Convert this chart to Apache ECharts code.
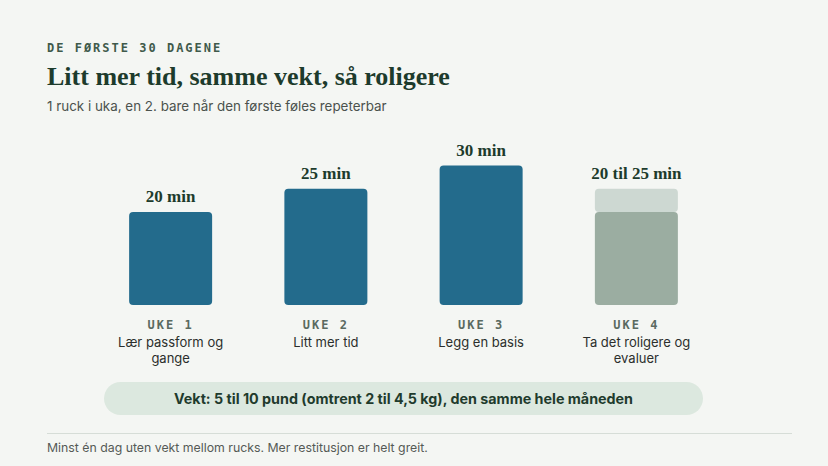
<!DOCTYPE html>
<html>
<head>
<meta charset="utf-8">
<script src="https://cdn.jsdelivr.net/npm/echarts@6/dist/echarts.min.js"></script>
<style>
  html, body { margin: 0; padding: 0; background: #f4f6f3; }
  #chart { width: 828px; height: 466px; }
  /* letter-spaced mono labels (svg renderer) */
  #chart text[style*="Mono"] { letter-spacing: 2px; }
</style>
</head>
<body>
<div id="chart"></div>
<script>
// data
const weeks = ['UKE 1', 'UKE 2', 'UKE 3', 'UKE 4'];
const descriptions = ['Lær passform og\ngange', 'Litt mer tid', 'Legg en basis', 'Ta det roligere og\nevaluer'];
const minutes = [20, 25, 30, 20];
const extraMinutes = [0, 0, 0, 5];
const valueLabels = ['20 min', '25 min', '30 min', '20 til 25 min'];

const kicker = 'DE FØRSTE 30 DAGENE';
const title = 'Litt mer tid, samme vekt, så roligere';
const subtitle = '1 ruck i uka, en 2. bare når den første føles repeterbar';
const weightNote = 'Vekt: 5 til 10 pund (omtrent 2 til 4,5 kg), den samme hele måneden';
const footnote = 'Minst én dag uten vekt mellom rucks. Mer restitusjon er helt greit.';

const chart = echarts.init(document.getElementById('chart'), null, { renderer: 'svg' });

const BAR = '#236b8c';
const SOFT = '#9badA1';
const SOFT_LIGHT = '#cdd8d2';

const valueLabel = {
  show: true,
  position: 'top',
  distance: 7,
  formatter: (p) => valueLabels[p.dataIndex],
  fontFamily: 'Liberation Serif',
  fontWeight: 'bold',
  fontSize: 17,
  color: '#1d3b2c',
};

const option = {
  backgroundColor: '#f4f6f3',
  animation: false,
  grid: { left: 93, right: 114, top: 119, bottom: 161 },
  xAxis: {
    type: 'category',
    data: weeks,
    axisLine: { show: false },
    axisTick: { show: false },
    axisLabel: {
      margin: 10,
      interval: 0,
      formatter: (v, i) => `{w|${v}}\n{d|${descriptions[i].split('\n').join('}\n{d|')}}`,
      rich: {
        w: { fontFamily: 'DejaVu Sans Mono', fontSize: 12, fontWeight: 'bold', color: '#5a6a61', lineHeight: 19 },
        d: { fontFamily: 'Inter', fontSize: 13, color: '#2b2f2c', lineHeight: 16 },
      },
    },
  },
  yAxis: {
    type: 'value',
    min: 0,
    max: 40,
    show: false,
  },
  series: [
    {
      name: 'Minutter',
      type: 'bar',
      stack: 'tid',
      barWidth: 83,
      data: minutes.map((v, i) => ({
        value: v,
        itemStyle: { color: i === 3 ? SOFT : BAR, borderRadius: 4 },
        label: i === 3 ? { show: false } : undefined,
      })),
      label: valueLabel,
    },
    {
      name: 'Ekstra',
      type: 'bar',
      stack: 'tid',
      barWidth: 83,
      data: extraMinutes.map((v) => (v ? v : '-')),
      itemStyle: { color: SOFT_LIGHT, borderRadius: 4 },
      label: valueLabel,
    },
  ],
  graphic: [
    {
      type: 'text', left: 47, top: 42,
      style: { text: kicker, font: 'bold 12px "DejaVu Sans Mono"', fill: '#3f5a4b' },
    },
    {
      type: 'text', left: 47, top: 63,
      style: { text: title, font: 'bold 26px "Liberation Serif"', fill: '#1d3b2c' },
    },
    {
      type: 'text', left: 47, top: 99,
      style: { text: subtitle, font: '13.4px Inter', fill: '#4b524d' },
    },
    {
      type: 'rect', shape: { x: 104, y: 382, width: 599, height: 33, r: 16.5 },
      style: { fill: '#dce8df' },
    },
    {
      type: 'text', x: 403.5, y: 398.5,
      style: { text: weightNote, font: 'bold 14.3px Inter', fill: '#1f3b2d', align: 'center', verticalAlign: 'middle' },
    },
    {
      type: 'line', shape: { x1: 47, y1: 433.5, x2: 792, y2: 433.5 },
      style: { stroke: '#d6ddd7', lineWidth: 1 },
    },
    {
      type: 'text', left: 47, top: 441,
      style: { text: footnote, font: '12.3px Inter', fill: '#555a56' },
    },
  ],
};

chart.setOption(option);
</script>
</body>
</html>
